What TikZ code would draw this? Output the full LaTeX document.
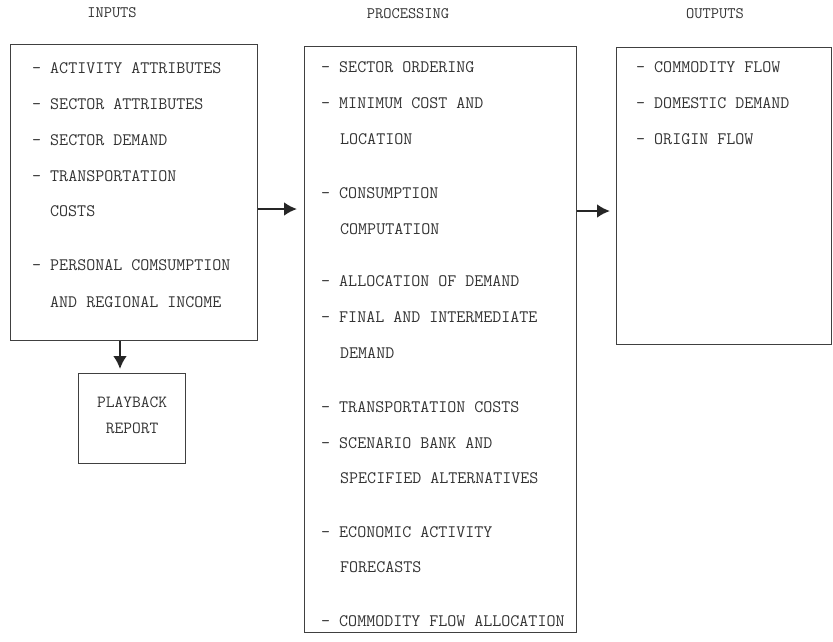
\documentclass[tikz,border=0pt]{standalone}
\usetikzlibrary{arrows.meta}
\begin{document}
\begin{tikzpicture}[x=1pt,y=-1pt,
  panel/.style={draw=black!75,line width=1.4pt,inner sep=0pt,anchor=north west},
  heading/.style={font=\fontsize{16}{19}\ttfamily,text=black!80,anchor=base},
  entry/.style={font=\fontsize{17.5}{21}\ttfamily,text=black!80,anchor=base west,inner sep=0pt},
  label/.style={font=\fontsize{17}{20}\ttfamily,text=black!80,anchor=base},
  arr/.style={draw=black!85,line width=2.6pt,-{Latex[length=13pt,width=14pt]}}]
\useasboundingbox (0,0) rectangle (833,641);

% headings
\node[heading] (hin)  at (112,17) {INPUTS};
\node[heading] (hpro) at (408,18) {PROCESSING};
\node[heading] (hout) at (715,18) {OUTPUTS};

% boxes
\node[panel,minimum width=247pt,minimum height=296pt] (inputs) at (10,44) {};
\node[panel,minimum width=272pt,minimum height=586pt] (proc)   at (304,46) {};
\node[panel,minimum width=215pt,minimum height=297pt] (outputs) at (616,47) {};
\node[panel,minimum width=107pt,minimum height=90pt]  (play)   at (78,373) {};

% inputs list
\node[entry] (i1) at (32,73)  {- ACTIVITY ATTRIBUTES};
\node[entry] (i2) at (32,109) {- SECTOR ATTRIBUTES};
\node[entry] (i3) at (32,145) {- SECTOR DEMAND};
\node[entry] (i4) at (32,181) {- TRANSPORTATION};
\node[entry] (i5) at (50,216) {COSTS};
\node[entry] (i6) at (32,270) {- PERSONAL COMSUMPTION};
\node[entry] (i7) at (50,307) {AND REGIONAL INCOME};

% processing list
\node[entry] (p1)  at (321,72)  {- SECTOR ORDERING};
\node[entry] (p2)  at (321,108) {- MINIMUM COST AND};
\node[entry] (p3)  at (340,144) {LOCATION};
\node[entry] (p4)  at (321,198) {- CONSUMPTION};
\node[entry] (p5)  at (340,234) {COMPUTATION};
\node[entry] (p6)  at (321,286) {- ALLOCATION OF DEMAND};
\node[entry] (p7)  at (321,322) {- FINAL AND INTERMEDIATE};
\node[entry] (p8)  at (340,358) {DEMAND};
\node[entry] (p9)  at (321,412) {- TRANSPORTATION COSTS};
\node[entry] (p10) at (321,448) {- SCENARIO BANK AND};
\node[entry] (p11) at (340,483) {SPECIFIED ALTERNATIVES};
\node[entry] (p12) at (321,537) {- ECONOMIC ACTIVITY};
\node[entry] (p13) at (340,572) {FORECASTS};
\node[entry] (p14) at (321,626) {- COMMODITY FLOW ALLOCATION};

% outputs list
\node[entry] (o1) at (636,72)  {- COMMODITY FLOW};
\node[entry] (o2) at (636,108) {- DOMESTIC DEMAND};
\node[entry] (o3) at (636,144) {- ORIGIN FLOW};

% playback report
\node[label] (r1) at (play.north |- 0,407) {PLAYBACK};
\node[label] (r2) at (play.north |- 0,433) {REPORT};

% flow arrows
\coordinate (ya) at (0,209);
\coordinate (yb) at (0,211);
\coordinate (xc) at (120,0);
\draw[arr,shorten >=7pt] (inputs.east |- ya) -- (proc.west |- ya);
\draw[arr,shorten >=6pt] (proc.east |- yb) -- (outputs.west |- yb);
\draw[arr,shorten >=4pt] (xc |- inputs.south) -- (xc |- play.north);
\end{tikzpicture}
\end{document}
